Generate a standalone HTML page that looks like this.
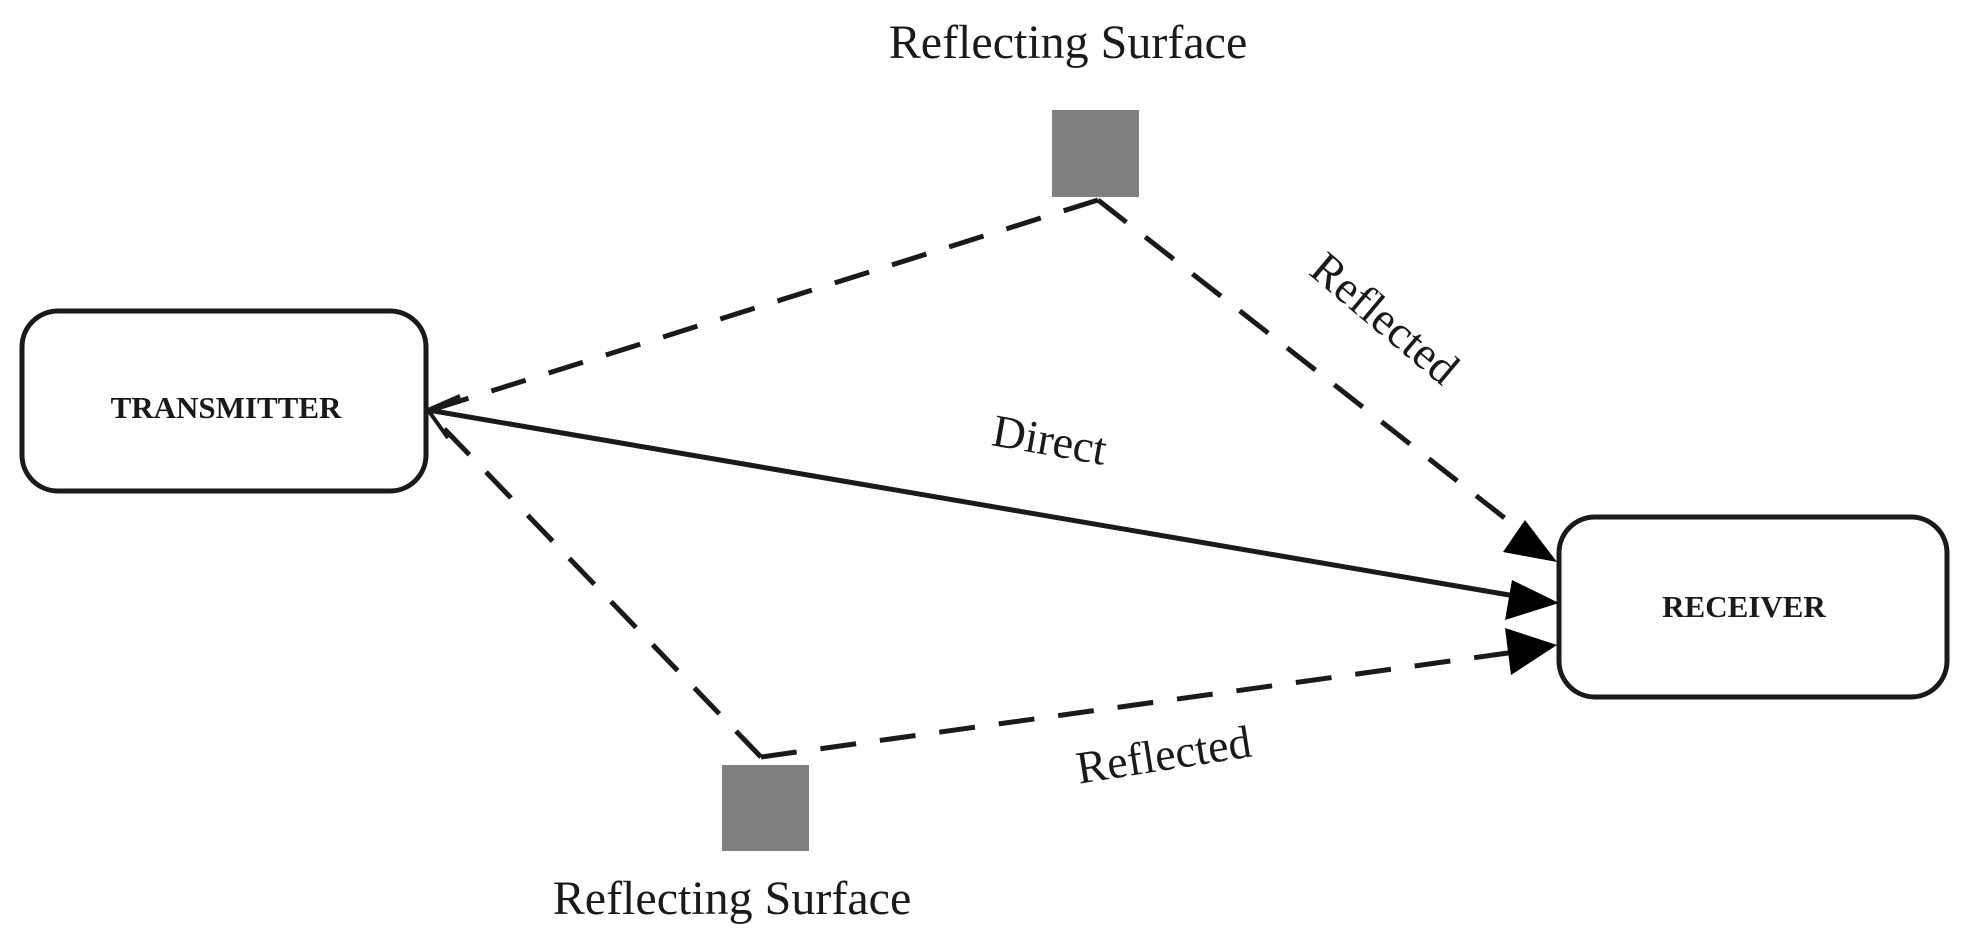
<!DOCTYPE html>
<html><head><meta charset="utf-8"><style>
html,body{margin:0;padding:0;background:#fff}
svg{display:block}
text{font-family:"Liberation Serif",serif;fill:#1a1a1a}
</style></head><body>
<svg width="1963" height="949" viewBox="0 0 1963 949" xmlns="http://www.w3.org/2000/svg">
<defs>
<marker id="ah" markerWidth="12" markerHeight="10" refX="11" refY="5" orient="auto" markerUnits="userSpaceOnUse" viewBox="0 0 12 10">
</marker>
</defs>
<!-- boxes -->
<rect x="22" y="311" width="404" height="180" rx="36" fill="#fff" stroke="#1a1a1a" stroke-width="5"/>
<rect x="1559" y="517" width="388" height="180" rx="36" fill="#fff" stroke="#1a1a1a" stroke-width="5"/>
<text x="226" y="418" font-size="31" font-weight="bold" text-anchor="middle">TRANSMITTER</text>
<text x="1744" y="617" font-size="31" font-weight="bold" text-anchor="middle">RECEIVER</text>
<!-- squares -->
<rect x="1052" y="110" width="87" height="87" fill="#808080"/>
<rect x="722" y="765" width="87" height="86" fill="#808080"/>
<text x="1068" y="58" font-size="48" text-anchor="middle">Reflecting Surface</text>
<text x="732" y="914" font-size="48" text-anchor="middle">Reflecting Surface</text>
<!-- dashed lines -->
<g stroke="#1a1a1a" stroke-width="5" fill="none" stroke-dasharray="36 24">
<path d="M1098 200 L428 411"/>
<path d="M1098 200 L1520 530"/>
<path d="M761 757 L430 414"/>
<path d="M761 757 L1515 652"/>
</g>
<!-- direct -->
<path d="M428 410 L1515 596" stroke="#1a1a1a" stroke-width="5" fill="none"/>
<path d="M460 396 L428 410 L448 438" stroke="#1a1a1a" stroke-width="4" fill="none"/>
<!-- arrowheads -->
<g fill="#000">
<polygon points="1559,603 1512,580 1505,620"/>
<polygon points="1557,562 1525,520 1503,552"/>
<polygon points="1557,645 1505,628 1511,675"/>
</g>
<!-- labels -->
<text font-size="46" text-anchor="middle" transform="translate(1047,455) rotate(10)">Direct</text>
<text font-size="46" text-anchor="middle" transform="translate(1375,330) rotate(40)">Reflected</text>
<text font-size="46" text-anchor="middle" transform="translate(1166,770) rotate(-9)">Reflected</text>
</svg>
</body></html>
